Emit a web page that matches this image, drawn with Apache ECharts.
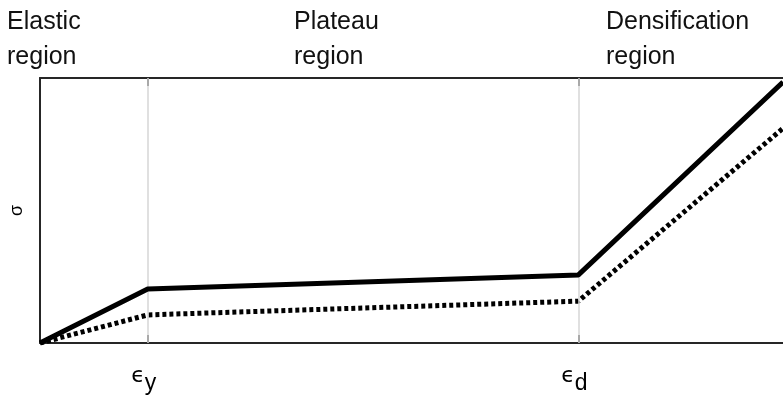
<!DOCTYPE html>
<html>
<head>
<meta charset="utf-8">
<script src="https://cdn.jsdelivr.net/npm/echarts@6/dist/echarts.min.js"></script>
<style>html,body{margin:0;padding:0;background:#fff}#c{width:783px;height:399px}</style>
</head>
<body>
<div id="c"></div>
<script>
// strain positions (x) and stress values (y)
const strainX = [0, 0.1, 0.5, 0.69];
const solidStress = [0, 0.204, 0.257, 0.985];
const dottedStress = [0, 0.106, 0.158, 0.81];
const tickValues = [0.1, 0.5];
const tickSubs = ['y', 'd'];
const regionLabels = ['Elastic\nregion', 'Plateau\nregion', 'Densification\nregion'];
const yName = 'σ';

const chart = echarts.init(document.getElementById('c'), null, {renderer: 'canvas'});
const axisColor = '#262626';
const fontFam = '"Liberation Sans", Arial, sans-serif';

function pairs(ys) { return strainX.map((x, i) => [x, ys[i]]); }

const option = {
  animation: false,
  backgroundColor: '#fff',
  grid: {left: 37, right: 0, top: 78, bottom: 56, containLabel: false},
  xAxis: [{
    type: 'value', min: 0, max: 0.69, position: 'bottom',
    axisLine: {show: true, onZero: false, lineStyle: {color: axisColor, width: 2}},
    axisTick: {show: true, inside: true, length: 8, customValues: tickValues, lineStyle: {color: axisColor, width: 2}},
    splitLine: {show: false},
    axisLabel: {
      show: true, customValues: tickValues, margin: 22,
      formatter: function (v) {
        const i = tickValues.indexOf(v);
        return '{e|ϵ}{s|' + tickSubs[i] + '}{p| }';
      },
      rich: {
        e: {fontFamily: '"DejaVu Sans", sans-serif', fontSize: 22, color: '#000', lineHeight: 2, verticalAlign: 'top'},
        s: {fontFamily: fontFam, fontSize: 23, color: '#000', lineHeight: 30, verticalAlign: 'bottom'},
        p: {fontSize: 10, width: 8, lineHeight: 10}
      }
    }
  }, {
    type: 'value', min: 0, max: 0.69, position: 'top',
    axisLine: {show: true, onZero: false, lineStyle: {color: axisColor, width: 2}},
    axisTick: {show: true, inside: true, length: 8, customValues: tickValues, lineStyle: {color: axisColor, width: 2}},
    splitLine: {show: false},
    axisLabel: {show: false}
  }],
  yAxis: {
    type: 'value', min: 0, max: 1,
    name: yName, nameLocation: 'middle', nameGap: 14, nameRotate: 90,
    nameTextStyle: {fontFamily: fontFam, fontSize: 18, color: '#000'},
    axisLine: {show: true, lineStyle: {color: axisColor, width: 2}},
    axisTick: {show: false}, axisLabel: {show: false}, splitLine: {show: false}
  },
  series: [{
    type: 'line', data: pairs(solidStress), showSymbol: false, symbol: 'none',
    lineStyle: {color: '#000', width: 5}, z: 5,
    markLine: {
      silent: true, symbol: 'none', label: {show: false},
      lineStyle: {color: '#d6d6d6', width: 1.5, type: 'solid'},
      data: tickValues.map(v => ({xAxis: v}))
    }
  }, {
    type: 'line', data: pairs(dottedStress), showSymbol: false, symbol: 'none',
    lineStyle: {color: '#000', width: 5, type: [4, 3]}, z: 4
  }],
  graphic: [
    {type: 'text', left: 7, top: 5, style: {text: regionLabels[0], font: '25px ' + fontFam, lineHeight: 35, fill: '#111'}},
    {type: 'text', left: 294, top: 5, style: {text: regionLabels[1], font: '25px ' + fontFam, lineHeight: 35, fill: '#111'}},
    {type: 'text', left: 606, top: 5, style: {text: regionLabels[2], font: '25px ' + fontFam, lineHeight: 35, fill: '#111'}}
  ]
};
chart.setOption(option);
</script>
</body>
</html>
